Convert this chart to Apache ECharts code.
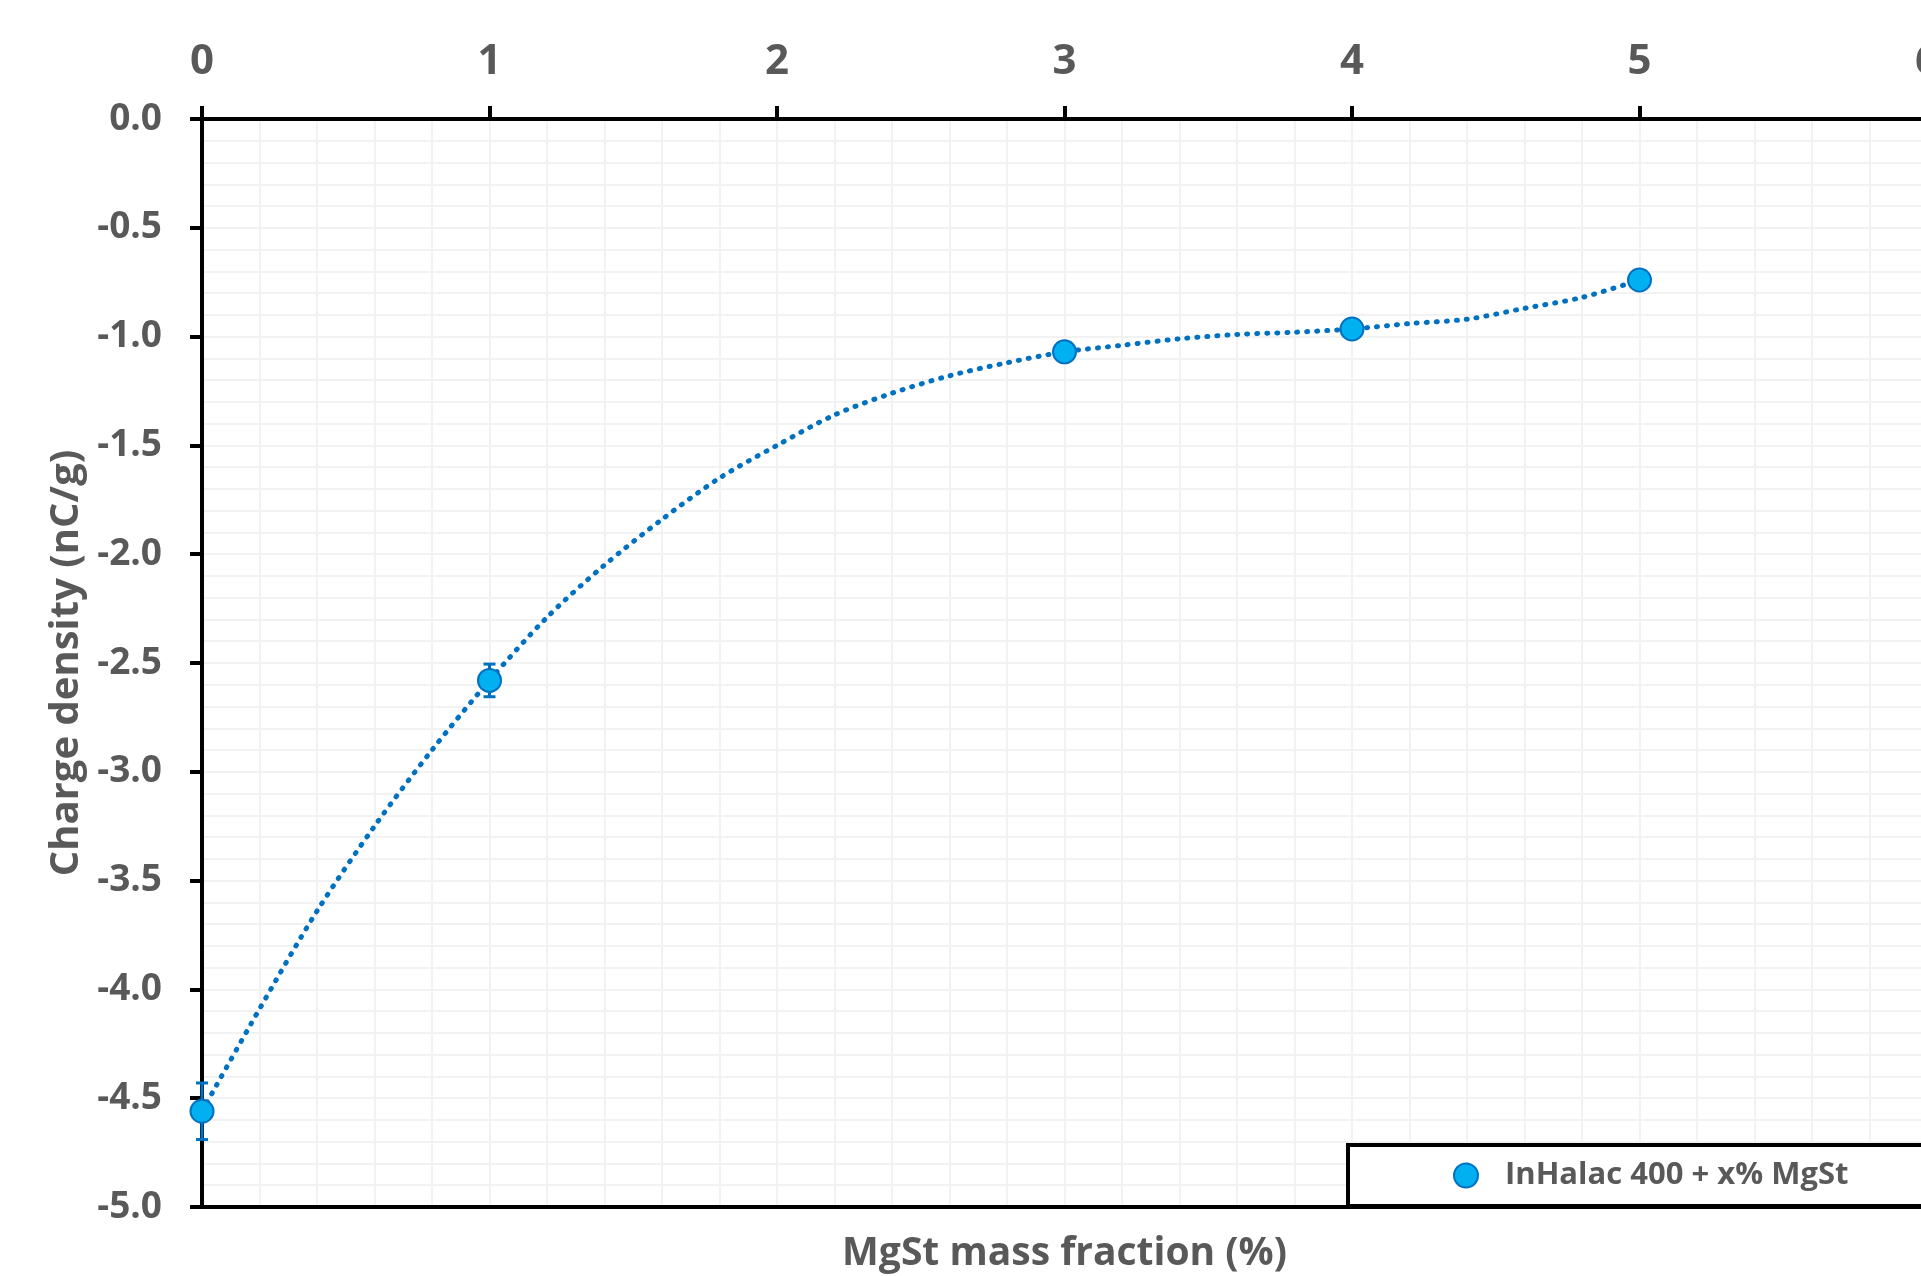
<!DOCTYPE html>
<html>
<head>
<meta charset="utf-8">
<title>Charge density vs MgSt mass fraction</title>
<script src="https://cdn.jsdelivr.net/npm/echarts@6/dist/echarts.min.js"></script>
<style>
    html, body { margin: 0; padding: 0; background: #fff; overflow: hidden; }
    #chargeDiv { width: 1930px; height: 1276px; }
</style>
</head>
<body>
<div id="chargeDiv"></div>
<script>
// measured points
var mgstFraction = [0, 1, 3, 4, 5];
var chargeDensity = [-4.56, -2.58, -1.07, -0.965, -0.74];
var chargeError = [0.13, 0.075, 0.03, 0.03, 0.03];

// dotted trendline
var trendX = [0, 0.2, 0.4, 0.6, 0.8, 1, 1.2, 1.4, 1.6, 1.8, 2, 2.2, 2.4, 2.6, 2.8, 3, 3.2, 3.4, 3.6, 3.8, 4, 4.2, 4.4, 4.6, 4.8, 5];
var trendY = [-4.56, -4.09, -3.64, -3.25, -2.90, -2.58, -2.29, -2.05, -1.84, -1.65, -1.50, -1.36, -1.26, -1.18, -1.12, -1.07, -1.04, -1.01, -0.99, -0.98, -0.965, -0.94, -0.92, -0.87, -0.82, -0.74];

var seriesName = 'InHalac 400 + x% MgSt';
var xAxisTitle = 'MgSt mass fraction (%)';
var yAxisTitle = 'Charge density (nC/g)';

var fontName = '"Open Sans", "DejaVu Sans", sans-serif';
var textGray = '#595959';
var gridGray = '#F2F2F2';

function drawChargeChart() {
    // div is a bit wider than the window so that x = 6 falls just off the right edge
    var myChart = echarts.init(document.getElementById('chargeDiv'));

    var pointData = mgstFraction.map(function (x, i) {
        return [x, chargeDensity[i]];
    });
    var errorData = mgstFraction.map(function (x, i) {
        return [x, chargeDensity[i] - chargeError[i], chargeDensity[i] + chargeError[i]];
    });
    var trendData = trendX.map(function (x, i) {
        return [x, trendY[i]];
    });

    myChart.setOption({
        backgroundColor: '#fff',
        animation: false,
        grid: {
            left: 202,
            top: 119,
            width: 1725,
            height: 1088,
            outerBoundsMode: 'none'
        },
        legend: {
            data: [seriesName],
            left: 1348,
            top: 1145,
            padding: [15, 105, 15, 105],
            icon: 'circle',
            itemWidth: 24,
            itemHeight: 24,
            borderColor: '#000',
            borderWidth: 4,
            backgroundColor: '#fff',
            textStyle: {
                fontFamily: fontName,
                fontSize: 31,
                fontWeight: 'bold',
                color: textGray,
                lineHeight: 30,
                padding: [0, 0, 0, 22]
            }
        },
        xAxis: [
            {
                type: 'value',
                position: 'top',
                min: 0,
                max: 6,
                interval: 1,
                axisLine: { show: true, lineStyle: { color: '#000', width: 4 } },
                axisTick: { show: true, length: 13, lineStyle: { color: '#000', width: 4 } },
                axisLabel: {
                    margin: 36,
                    fontFamily: fontName,
                    fontSize: 42,
                    fontWeight: 'bold',
                    color: textGray
                },
                splitLine: { show: true, lineStyle: { color: gridGray, width: 2 } },
                minorTick: { show: false, splitNumber: 5 },
                minorSplitLine: { show: true, lineStyle: { color: gridGray, width: 2 } }
            },
            {
                type: 'value',
                position: 'bottom',
                min: 0,
                max: 6,
                interval: 1,
                name: xAxisTitle,
                nameLocation: 'middle',
                nameGap: 27,
                nameTextStyle: {
                    fontFamily: fontName,
                    fontSize: 39,
                    fontWeight: 'bold',
                    color: textGray
                },
                axisLine: { show: true, lineStyle: { color: '#000', width: 4 } },
                axisTick: { show: false },
                axisLabel: { show: false },
                splitLine: { show: false }
            }
        ],
        yAxis: {
            type: 'value',
            min: -5,
            max: 0,
            interval: 0.5,
            name: yAxisTitle,
            nameLocation: 'middle',
            nameRotate: 90,
            nameGap: 114,
            nameTextStyle: {
                fontFamily: fontName,
                fontSize: 40,
                fontWeight: 'bold',
                color: textGray
            },
            axisLine: { show: true, lineStyle: { color: '#000', width: 4 } },
            axisTick: { show: true, length: 12, lineStyle: { color: '#000', width: 4 } },
            axisLabel: {
                margin: 40,
                fontFamily: fontName,
                fontSize: 37,
                fontWeight: 'bold',
                color: textGray,
                formatter: function (v) {
                    return v.toFixed(1);
                }
            },
            splitLine: { show: true, lineStyle: { color: gridGray, width: 2 } },
            minorTick: { show: false, splitNumber: 5 },
            minorSplitLine: { show: true, lineStyle: { color: gridGray, width: 2 } }
        },
        series: [
            {
                name: 'trend',
                type: 'line',
                xAxisIndex: 0,
                data: trendData,
                smooth: 0.3,
                showSymbol: false,
                silent: true,
                z: 2,
                lineStyle: {
                    color: '#0070C0',
                    width: 5,
                    type: [1, 9],
                    cap: 'round'
                }
            },
            {
                name: 'error',
                type: 'custom',
                xAxisIndex: 0,
                data: errorData,
                encode: { x: 0, y: [1, 2] },
                z: 3,
                renderItem: function (params, api) {
                    var x = api.value(0);
                    var low = api.coord([x, api.value(1)]);
                    var high = api.coord([x, api.value(2)]);
                    var cap = 6;
                    var style = { stroke: '#0070C0', lineWidth: 3 };
                    return {
                        type: 'group',
                        children: [
                            { type: 'line', shape: { x1: high[0], y1: high[1], x2: low[0], y2: low[1] }, style: style },
                            { type: 'line', shape: { x1: high[0] - cap, y1: high[1], x2: high[0] + cap, y2: high[1] }, style: style },
                            { type: 'line', shape: { x1: low[0] - cap, y1: low[1], x2: low[0] + cap, y2: low[1] }, style: style }
                        ]
                    };
                }
            },
            {
                name: seriesName,
                type: 'scatter',
                xAxisIndex: 0,
                data: pointData,
                symbol: 'circle',
                symbolSize: 23,
                z: 4,
                itemStyle: {
                    color: '#00B0F0',
                    borderColor: '#0070C0',
                    borderWidth: 2,
                    opacity: 1
                }
            }
        ]
    });
}

drawChargeChart();
</script>
</body>
</html>
